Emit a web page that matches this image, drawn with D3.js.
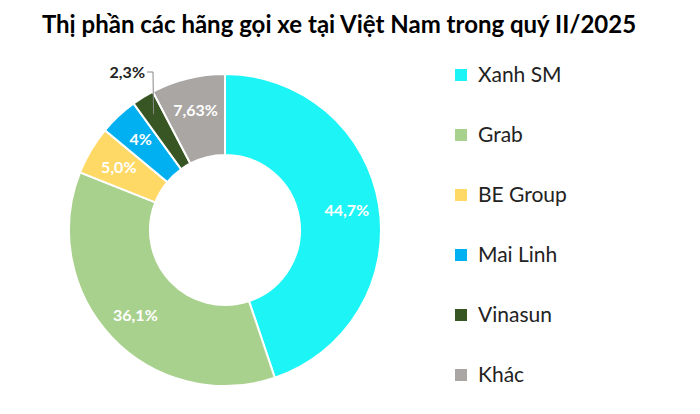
<!DOCTYPE html>
<html><head><meta charset="utf-8">
<script src="https://cdn.jsdelivr.net/npm/d3@7"></script>
<style>body{margin:0;background:#fff}svg{font-family:Lato,"Open Sans",sans-serif}</style>
</head><body><svg id="chart" width="700" height="414"></svg>
<script>
"use strict";
const categories = ["Xanh SM", "Grab", "BE Group", "Mai Linh", "Vinasun", "Khác"];
const shares = [44.7, 36.1, 5.0, 4, 2.3, 7.63];
const labels = ["44,7%", "36,1%", "5,0%", "4%", "2,3%", "7,63%"];
const COLORS = ["#1cf4f6", "#a9d18e", "#ffd966", "#00b0f0", "#375623", "#aaa6a3"];

const svg = d3.select("#chart");
svg.append("text").attr("x", 339).attr("y", 33).attr("text-anchor", "middle")
    .attr("font-size", 24).attr("font-weight", "bold").text("Thị phần các hãng gọi xe tại Việt Nam trong quý II/2025");

const cx = 225, cy = 230, rOut = 156, rIn = 75;
const pie = d3.pie().sort(null).value(d => d)(shares);
const arc = d3.arc().innerRadius(rIn).outerRadius(rOut);
const g = svg.append("g").attr("transform", `translate(${cx},${cy})`);
g.selectAll("path").data(pie).join("path")
    .attr("d", arc).attr("fill", (d, i) => COLORS[i])
    .attr("stroke", "#fff").attr("stroke-width", 2);

const labelArc = d3.arc().innerRadius((rIn + rOut) / 2 + 8).outerRadius((rIn + rOut) / 2 + 8);
g.selectAll("text.lbl").data(pie).join("text")
    .filter((d, i) => i !== 4)
    .attr("class", "lbl")
    .attr("transform", d => `translate(${labelArc.centroid(d)})`)
    .attr("text-anchor", "middle").attr("dy", "0.35em")
    .attr("fill", "#fff").attr("font-weight", "bold").attr("font-size", 16)
    .text(d => labels[pie.indexOf(d)]);

// outside label for Vinasun
const vin = pie[4];
const pOuter = d3.arc().innerRadius(rOut - 20).outerRadius(rOut - 20).centroid(vin);
g.append("polyline")
    .attr("points", [[pOuter[0], pOuter[1]], [-72, -158], [-78, -158]].map(p => p.join(",")).join(" "))
    .attr("fill", "none").attr("stroke", "#888").attr("stroke-width", 1);
g.append("text").attr("x", -80).attr("y", -152).attr("text-anchor", "end")
    .attr("font-weight", "bold").attr("font-size", 16).attr("fill", "#222").text(labels[4]);

const legend = svg.append("g").attr("transform", "translate(455,75)");
const rows = legend.selectAll("g").data(categories).join("g")
    .attr("transform", (d, i) => `translate(0,${i * 60})`);
rows.append("rect").attr("x", 0).attr("y", -6).attr("width", 12).attr("height", 12)
    .attr("fill", (d, i) => COLORS[i]);
rows.append("text").attr("x", 23).attr("dy", "0.35em").attr("font-size", 21)
    .attr("fill", "#222").text(d => d);
</script></body></html>
